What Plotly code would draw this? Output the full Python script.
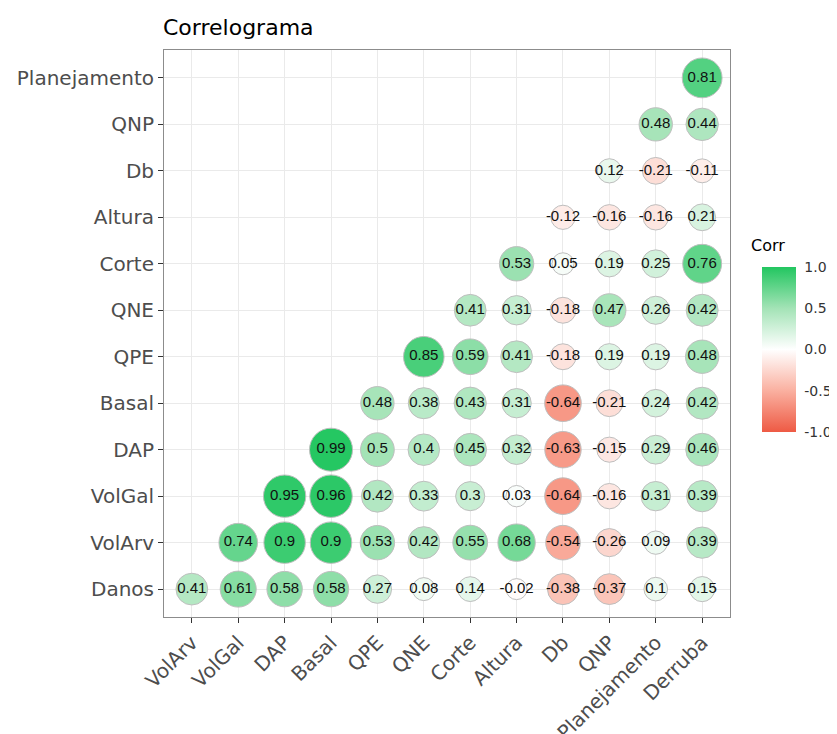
import numpy as np
import plotly.graph_objects as go

# Variables (x columns and y rows)
x_vars = ["VolArv", "VolGal", "DAP", "Basal", "QPE", "QNE", "Corte", "Altura",
          "Db", "QNP", "Planejamento", "Derruba"]
y_vars = ["Danos", "VolArv", "VolGal", "DAP", "Basal", "QPE", "QNE", "Corte",
          "Altura", "Db", "QNP", "Planejamento"]

# Lower-triangle correlations: row variable vs following columns
corr_Danos = [0.41, 0.61, 0.58, 0.58, 0.27, 0.08, 0.14, -0.02, -0.38, -0.37, 0.1, 0.15]
corr_VolArv = [0.74, 0.9, 0.9, 0.53, 0.42, 0.55, 0.68, -0.54, -0.26, 0.09, 0.39]
corr_VolGal = [0.95, 0.96, 0.42, 0.33, 0.3, 0.03, -0.64, -0.16, 0.31, 0.39]
corr_DAP = [0.99, 0.5, 0.4, 0.45, 0.32, -0.63, -0.15, 0.29, 0.46]
corr_Basal = [0.48, 0.38, 0.43, 0.31, -0.64, -0.21, 0.24, 0.42]
corr_QPE = [0.85, 0.59, 0.41, -0.18, 0.19, 0.19, 0.48]
corr_QNE = [0.41, 0.31, -0.18, 0.47, 0.26, 0.42]
corr_Corte = [0.53, 0.05, 0.19, 0.25, 0.76]
corr_Altura = [-0.12, -0.16, -0.16, 0.21]
corr_Db = [0.12, -0.21, -0.11]
corr_QNP = [0.48, 0.44]
corr_Planejamento = [0.81]

rows = [corr_Danos, corr_VolArv, corr_VolGal, corr_DAP, corr_Basal, corr_QPE,
        corr_QNE, corr_Corte, corr_Altura, corr_Db, corr_QNP, corr_Planejamento]

legend_ticks = [-1, -0.5, 0, 0.5, 1]
legend_ticktext = ["-1.0", "-0.5", "0.0", "0.5", "1.0"]

xs, ys, vals = [], [], []
for i, (yname, rvals) in enumerate(zip(y_vars, rows)):
    cols = x_vars[len(x_vars) - len(rvals):]
    for xname, v in zip(cols, rvals):
        xs.append(xname)
        ys.append(yname)
        vals.append(v)

vals_arr = np.array(vals)
absv = np.abs(vals_arr)
dmin, dmax = 21.0, 43.0
area = dmin**2 + (dmax**2 - dmin**2) * (absv - absv.min()) / (absv.max() - absv.min())
sizes = np.sqrt(area)

labels = [f"{v:g}" for v in vals]

colorscale = [
    [0.0, "#EE5A44"],
    [0.25, "#FAB0A0"],
    [0.5, "#FFFFFF"],
    [0.75, "#A3E3B6"],
    [1.0, "#22C660"],
]

# page offset (browser body margin)
OFF = 8
# target panel in page pixels
PL, PR, PT, PB = 164, 730, 50, 617
W, H = 837, 734

fig = go.Figure()
fig.add_trace(go.Scatter(
    x=xs, y=ys, mode="markers+text",
    text=labels, textposition="middle center",
    textfont=dict(family="Liberation Sans, Arial", size=15, color="#111111"),
    marker=dict(size=sizes, sizemode="diameter", color=vals,
                coloraxis="coloraxis",
                line=dict(color="#BEBEBE", width=1), opacity=1),
    hoverinfo="skip", showlegend=False,
))

axis_font = dict(family="DejaVu Sans", size=20, color="#4d4d4d")

pw = PR - PL
ph = PB - PT

fig.update_layout(
    width=W, height=H,
    margin=dict(l=PL - OFF, r=W - (PR - OFF), t=PT - OFF, b=H - (PB - OFF), autoexpand=False),
    paper_bgcolor="white", plot_bgcolor="white",
    title=dict(text="Correlograma", x=(163 - OFF) / W, xanchor="left", xref="container",
               y=1 - (27 - OFF) / H, yanchor="middle",
               font=dict(family="DejaVu Sans", size=22, color="#000000")),
    xaxis=dict(type="category", categoryorder="array", categoryarray=x_vars,
               range=[-0.6, 11.6], showgrid=True, gridcolor="#EAEAEA", gridwidth=1.3,
               showline=True, mirror=True, linecolor="#8c8c8c", linewidth=1,
               ticks="outside", ticklen=5, tickcolor="#333333", tickwidth=1,
               tickangle=-45, tickfont=axis_font, zeroline=False, automargin=False),
    yaxis=dict(type="category", categoryorder="array", categoryarray=y_vars,
               range=[-0.6, 11.6], showgrid=True, gridcolor="#EAEAEA", gridwidth=1.3,
               showline=True, mirror=True, linecolor="#8c8c8c", linewidth=1,
               ticks="outside", ticklen=5, tickcolor="#333333", tickwidth=1,
               tickfont=axis_font, zeroline=False, automargin=False),
    coloraxis=dict(
        cmin=-1, cmax=1, colorscale=colorscale,
        colorbar=dict(
            x=(762 - PL) / pw, xanchor="left", xpad=0,
            y=(PB - 267) / ph, yanchor="top", ypad=0,
            len=165, lenmode="pixels", thickness=34, thicknessmode="pixels",
            outlinewidth=0,
            tickvals=legend_ticks,
            ticktext=legend_ticktext,
            ticks="outside", ticklen=6, tickcolor="rgba(0,0,0,0)",
            tickfont=dict(family="DejaVu Sans", size=14, color="#333333"),
        ),
    ),
    annotations=[dict(text="Corr", xref="paper", yref="paper",
                      x=(749 - PL) / pw, y=(PB - 245) / ph,
                      xanchor="left", yanchor="middle", showarrow=False,
                      font=dict(family="DejaVu Sans", size=16, color="#000000"))],
)

fig.write_html("out.html")
